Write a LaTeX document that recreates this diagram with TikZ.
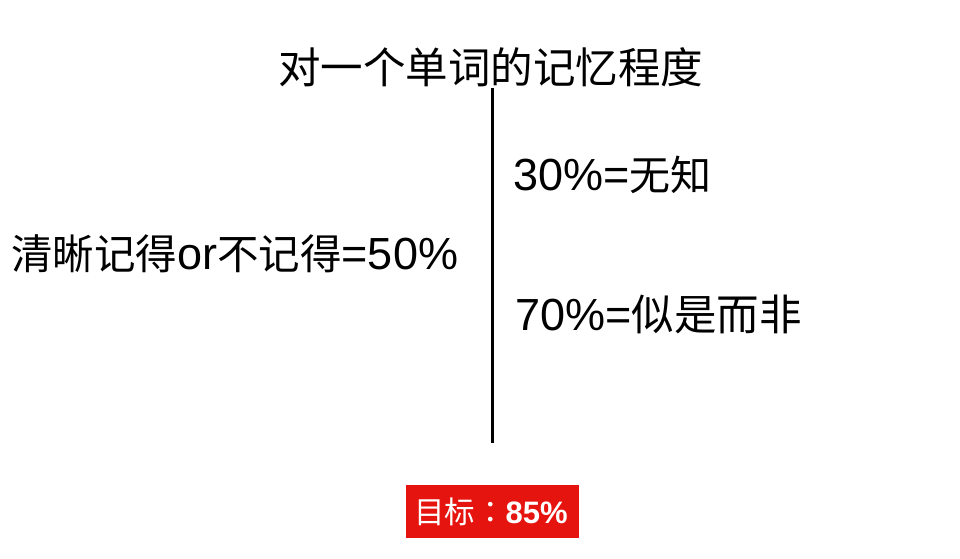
\documentclass[tikz,border=0pt]{standalone}
\usepackage{fontspec}
\setmainfont{Liberation Sans}
\newfontfamily\cjk{Noto Sans CJK SC}
\newfontfamily\cjktc{Noto Sans CJK TC}
\definecolor{goalred}{HTML}{E6140F}
\tikzset{
  lbl/.style={inner sep=0pt, anchor=base west, text=black},
  goalbox/.style={fill=goalred, draw=none},
}
\newcommand\zhs[2]{{\cjk\fontsize{#1}{#1}\selectfont #2}}
\newcommand\las[2]{{\fontsize{#1}{#1}\selectfont #2}}
\begin{document}
\begin{tikzpicture}[x=1pt,y=-1pt]
\useasboundingbox (0,0) rectangle (960,558);
\fill[white] (0,0) rectangle (960,558);
% title
\node[inner sep=0pt, anchor=center] (title) at (490.5,67) {\zhs{42.5}{对一个单词的记忆程度}};
% divider
\coordinate (ltop) at (492.5,88);
\coordinate (lbot) at (492.5,443);
\draw[line width=2.1pt, black] (ltop) -- (lbot);
% left text
\node[lbl] (left) at (11,269) {\zhs{41.5}{清晰记得}\las{45}{or}\zhs{41.5}{不记得}\las{45}{=50\%}};
% right texts
\node[lbl] (r1) at (513,190) {\las{45}{30\%=}\zhs{41}{无知}};
\node[lbl] (r2) at (515,330) {\las{45}{70\%=}\zhs{42.5}{似是而非}};
% goal box
\coordinate (gA) at (406,485);
\coordinate (gB) at (579,538);
\fill[goalbox] (gA) rectangle (gB);
\node[inner sep=0pt, anchor=center, text=white] (goal) at (491,511.5) {\zhs{30.5}{目标}{\cjktc\fontsize{30.5}{30.5}\selectfont ：}\las{31}{\bfseries 85\%}};
\end{tikzpicture}
\end{document}
